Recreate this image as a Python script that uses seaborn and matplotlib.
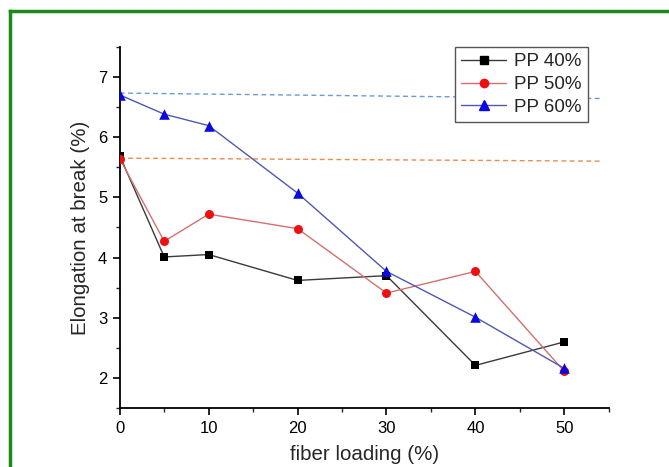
import matplotlib
matplotlib.use("Agg")
import matplotlib.pyplot as plt
import seaborn as sns
import pandas as pd
from matplotlib.lines import Line2D
from matplotlib.ticker import MultipleLocator

fiber = [0, 5, 10, 20, 30, 40, 50]
pp40 = [5.69, 4.01, 4.05, 3.62, 3.70, 2.21, 2.60]
pp50 = [5.64, 4.27, 4.72, 4.48, 3.41, 3.77, 2.11]
pp60 = [6.70, 6.38, 6.19, 5.07, 3.77, 3.01, 2.16]
series_names = ["PP 40%", "PP 50%", "PP 60%"]

trend_x = [0, 54.2]
trend_blue = [6.73, 6.64]
trend_orange = [5.65, 5.60]

sns.set_theme(style="ticks")
plt.rcParams['font.family'] = ['Liberation Sans', 'DejaVu Sans']

df = pd.DataFrame({
    "fiber": fiber * 3,
    "elong": pp40 + pp50 + pp60,
    "series": sum([[n] * len(fiber) for n in series_names], []),
})

fig = plt.figure(figsize=(6.69, 4.67), dpi=100)
ax = fig.add_axes([0.179, 0.126, 0.731, 0.774])

line_colors = {"PP 40%": "#3a3a3a", "PP 50%": "#d07070", "PP 60%": "#5058b0"}
marker_colors = {"PP 40%": "#000000", "PP 50%": "#ee1010", "PP 60%": "#0a0ae0"}
markers = {"PP 40%": "s", "PP 50%": "o", "PP 60%": "^"}
msize = {"PP 40%": 36, "PP 50%": 42, "PP 60%": 58}

tdf = pd.DataFrame({"x": trend_x * 2, "y": trend_blue + trend_orange,
                    "t": ["b"] * 2 + ["o"] * 2})
sns.lineplot(data=tdf, x="x", y="y", hue="t", palette={"b": "#6a9ad8", "o": "#ec8a50"},
             ax=ax, legend=False, linewidth=1.0, zorder=1)
for l in ax.lines:
    l.set_linestyle((0, (3.5, 2.5)))

sns.lineplot(data=df, x="fiber", y="elong", hue="series", palette=line_colors,
             ax=ax, legend=False, linewidth=1.0, zorder=2)
for n in series_names:
    sub = df[df.series == n]
    sns.scatterplot(data=sub, x="fiber", y="elong", color=marker_colors[n],
                    marker=markers[n], s=msize[n], linewidth=0, ax=ax, zorder=3,
                    legend=False)

ax.set_xlim(0, 55)
ax.set_ylim(1.5, 7.5)
ax.xaxis.set_major_locator(MultipleLocator(10))
ax.xaxis.set_minor_locator(MultipleLocator(5))
ax.yaxis.set_major_locator(MultipleLocator(1))
ax.yaxis.set_minor_locator(MultipleLocator(0.5))
ax.set_yticks([2, 3, 4, 5, 6, 7])
ax.tick_params(axis="both", which="major", direction="out", length=5, width=1.2,
               labelsize=12, colors="black", pad=4)
ax.tick_params(axis="both", which="minor", direction="out", length=3, width=1.0)
for s in ["left", "bottom"]:
    ax.spines[s].set_linewidth(1.3)
    ax.spines[s].set_color("black")
sns.despine(ax=ax)
ax.set_xlabel("fiber loading (%)", fontsize=14.8, labelpad=7)
ax.set_ylabel("Elongation at break (%)", fontsize=14.8, labelpad=6)

handles = [Line2D([0], [0], color=line_colors[n], marker=markers[n],
                  markerfacecolor=marker_colors[n], markeredgecolor=marker_colors[n],
                  markersize=6 if n != "PP 60%" else 7, linewidth=1.0)
           for n in series_names]
leg = ax.legend(handles, series_names, loc="upper right", bbox_to_anchor=(0.957, 1.0),
                borderaxespad=0, fontsize=13.5, frameon=True, fancybox=False,
                framealpha=1, edgecolor="#555555", handlelength=2.4, borderpad=0.35,
                labelspacing=0.3, handletextpad=0.4)
leg.get_frame().set_linewidth(1.0)

green = "#1a8a1a"
fig.add_artist(Line2D([9.5 / 669, 9.5 / 669], [0, 1 - 10.5 / 467],
                      transform=fig.transFigure, color=green, linewidth=2.5,
                      solid_capstyle="projecting"))
fig.add_artist(Line2D([9.5 / 669, 1.0], [1 - 10.5 / 467, 1 - 10.5 / 467],
                      transform=fig.transFigure, color=green, linewidth=2.5,
                      solid_capstyle="projecting"))

fig.savefig("out.png", dpi=100)
